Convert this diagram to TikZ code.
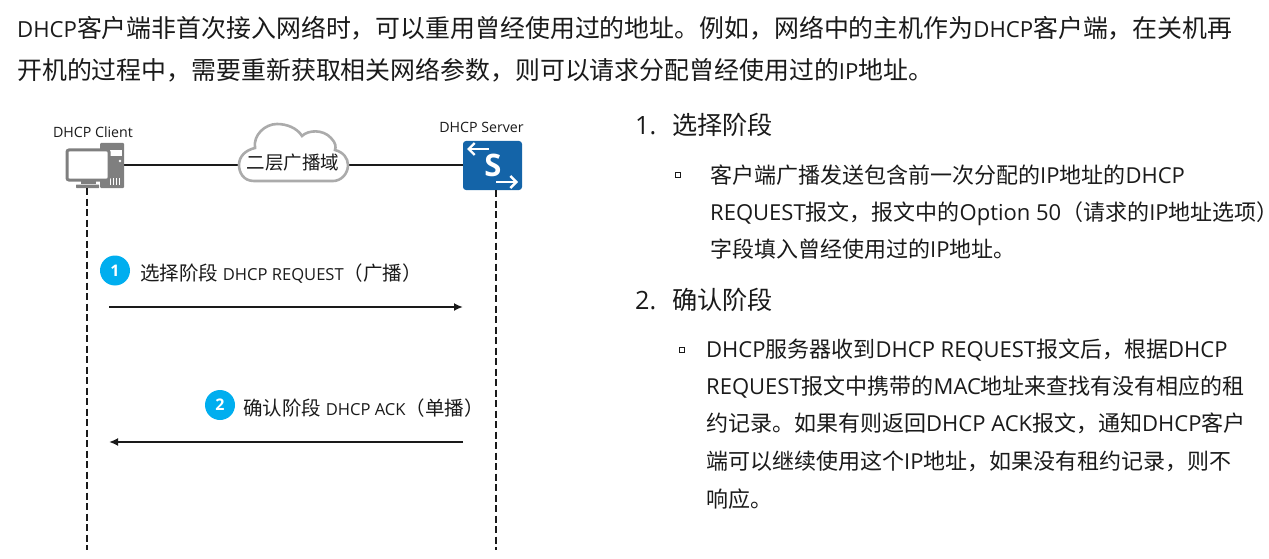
\documentclass[tikz,border=0pt]{standalone}
\usepackage{fontspec}
\setmainfont{Noto Sans CJK SC}
\newfontfamily\latinbody{Open Sans}
\newfontfamily\latinpara[Scale=0.89]{Open Sans}
\newfontfamily\latinmsg[Scale=0.85]{Open Sans}
\newcommand{\en}[1]{{\latinfam #1}}
\let\latinfam\latinbody
\usetikzlibrary{arrows.meta,positioning}
\definecolor{netgray}{HTML}{7F7F7F}
\definecolor{cloudgray}{HTML}{ABABAB}
\definecolor{swblue}{HTML}{1464A8}
\definecolor{stepcyan}{HTML}{00AEEF}
\definecolor{inkblack}{HTML}{1A1A1A}
\begin{document}
\begin{tikzpicture}[
  x=1pt, y=-1pt,
  >={Latex[length=9pt,width=8pt]},
  para/.style={anchor=base west, inner sep=0pt, font=\fontsize{24.9}{28}\selectfont\let\latinfam\latinpara, text=inkblack},
  body/.style={anchor=base west, inner sep=0pt, font=\fontsize{22}{24}\selectfont, text=inkblack},
  head/.style={anchor=base west, inner sep=0pt, font=\fontsize{25.2}{28}\selectfont, text=inkblack},
  small/.style={anchor=base, inner sep=0pt, font=\latinbody\fontsize{14.2}{16}\selectfont, text=inkblack},
  msg/.style={anchor=base west, inner sep=0pt, font=\fontsize{19.5}{22}\selectfont\let\latinfam\latinmsg, text=inkblack},
  badge/.style={circle, fill=stepcyan, text=white, inner sep=0pt, minimum size=30pt, font=\latinbody\fontsize{16}{20}\bfseries\selectfont},
  bullet/.style={draw=inkblack, line width=0.7pt, inner sep=0pt, minimum size=4.5pt},
  link/.style={line width=2pt, draw=inkblack},
  life/.style={line width=2pt, draw=inkblack, dash pattern=on 7pt off 3.5pt},
  arrow/.style={->, line width=2pt, draw=inkblack},
  swarrow/.style={white, line width=2.4pt, -{Straight Barb[length=6pt,width=12pt]}}
]
  \useasboundingbox (0,0) rectangle (1269,559);

  \node[para] (p1) at (17,38) {\en{DHCP}客户端非首次接入网络时，可以重用曾经使用过的地址。例如，网络中的主机作为\en{DHCP}客户端，在关机再};
  \node[para] (p2) at (17,80) {开机的过程中，需要重新获取相关网络参数，则可以请求分配曾经使用过的\en{IP}地址。};

  % network line first so that the icons sit on top
  \node[inner sep=0pt, minimum width=30pt, minimum height=60pt] (pc) at (95,169) {};
  \node[inner sep=0pt, minimum width=59pt, minimum height=49pt] (srv) at (492.500,165) {};
  \node[inner sep=0pt, minimum width=110pt, minimum height=40pt] (cloud) at (293,165) {};
  \coordinate (pcport) at (124,165);
  \draw[link] (pcport) -- (cloud.west);
  \draw[link] (cloud.east) -- (srv.west);

  % cloud
  \draw[cloudgray, line width=2.6pt, fill=white] (254,181)
    .. controls (243,181) and (239,172) .. (239,165)
    .. controls (239,156) and (246,150) .. (255,148)
    .. controls (253,135) and (265,124) .. (277,124)
    .. controls (287,124) and (297,128) .. (302,136)
    .. controls (308,130) and (323,129) .. (331,138)
    .. controls (336,143) and (336,147) .. (335,150)
    .. controls (343,152) and (348,158) .. (348,165)
    .. controls (348,174) and (341,181) .. (333,181) -- cycle;
  \node[font=\fontsize{18.5}{22}\selectfont, text=inkblack, inner sep=0pt] (cloudtxt) at (293,163) {二层广播域};

  % client computer
  \fill[netgray, rounded corners=1pt] (100,143) rectangle (124,188);
  \fill[white] (109,150) rectangle (122,156);
  \fill[white] (120,161) circle (1.3);
  \foreach \i in {110,113,116,119} \fill[white] (\i,178) rectangle +(1,7);
  \draw[netgray, line width=3pt, fill=white, rounded corners=2pt] (67,150) rectangle (109,180);
  \fill[netgray] (81,181) rectangle (96,184);
  \fill[netgray, rounded corners=0.5pt] (76,184.500) rectangle (99,188);

  % server switch
  \fill[swblue, rounded corners=3pt] (463,141) rectangle (522,190);
  \node[text=white, inner sep=0pt, font=\latinbody\fontsize{31}{34}\bfseries\selectfont] (srvs) at (493,165) {S};
  \draw[swarrow] (489,149) -- (467,149);
  \draw[swarrow] (496,182) -- (518,182);

  \node[small] (clabel) at (93,138) {DHCP Client};
  \node[small] (slabel) at (481.500,132) {DHCP Server};

  % life lines
  \coordinate (pcend) at (87,550);
  \coordinate (srvend) at (496,550);
  \coordinate (pcbase) at (87,188);
  \coordinate (srvbase) at (496,190);
  \draw[life] (pcbase) -- (pcend);
  \draw[life] (srvbase) -- (srvend);

  % messages
  \node[badge] (b1) at (115,270.500) {1};
  \node[msg, right=10pt of b1.east, anchor=west, yshift=-3pt] (m1) {选择阶段 \en{DHCP REQUEST}（广播）};
  \coordinate (a1s) at (109,307);
  \coordinate (a1e) at (463,307);
  \draw[arrow] (a1s) -- (a1e);

  \node[badge] (b2) at (220,405) {2};
  \node[msg, right=8pt of b2.east, anchor=west, yshift=-3pt] (m2) {确认阶段 \en{DHCP ACK}（单播）};
  \coordinate (a2s) at (463,442);
  \coordinate (a2e) at (109,442);
  \draw[arrow] (a2s) -- (a2e);

  % right side text
  \node[head] (h1) at (635,135) {\en{1.}};
  \node[head] (h1t) at (672,135) {选择阶段};
  \node[bullet] (d1) at (678,175) {};
  \node[body] (l1) at (710,183) {客户端广播发送包含前一次分配的\en{IP}地址的\en{DHCP}};
  \node[body] (l2) at (710,220) {\en{REQUEST}报文，报文中的\en{Option 50}（请求的\en{IP}地址选项）};
  \node[body] (l3) at (710,257) {字段填入曾经使用过的\en{IP}地址。};
  \node[head] (h2) at (635,309) {\en{2.}};
  \node[head] (h2t) at (672,309) {确认阶段};
  \node[bullet] (d2) at (682,350) {};
  \node[body] (l4) at (706,357) {\en{DHCP}服务器收到\en{DHCP REQUEST}报文后，根据\en{DHCP}};
  \node[body] (l5) at (706,394) {\en{REQUEST}报文中携带的\en{MAC}地址来查找有没有相应的租};
  \node[body] (l6) at (706,431) {约记录。如果有则返回\en{DHCP ACK}报文，通知\en{DHCP}客户};
  \node[body] (l7) at (706,469) {端可以继续使用这个\en{IP}地址，如果没有租约记录，则不};
  \node[body] (l8) at (706,507) {响应。};
\end{tikzpicture}
\end{document}
